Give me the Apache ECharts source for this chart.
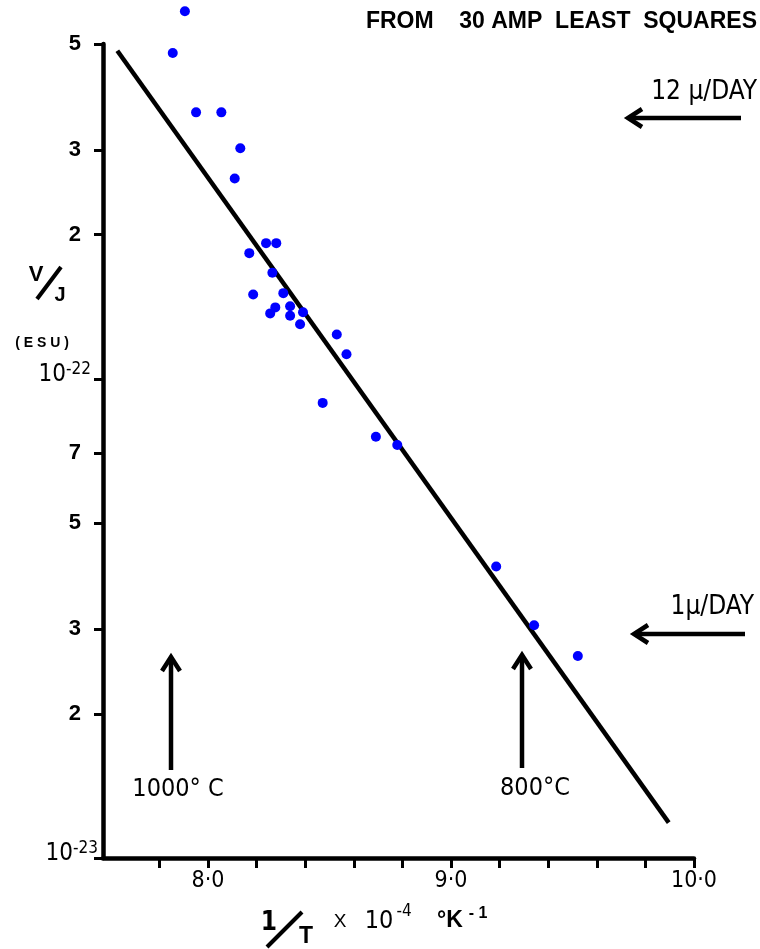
<!DOCTYPE html>
<html>
<head>
<meta charset="utf-8">
<script src="https://cdn.jsdelivr.net/npm/echarts@6/dist/echarts.min.js"></script>
<style>
  html, body { margin: 0; padding: 0; background: #fff; }
  #chart { width: 760px; height: 949px; }
</style>
</head>
<body>
<div id="chart"></div>
<script>
// 1/T in units of 10^-4 per K
const invT = [7.905, 7.855, 7.951, 8.055, 8.133, 8.110, 8.239, 8.281, 8.170, 8.265,
  8.186, 8.310, 8.277, 8.338, 8.256, 8.338, 8.391, 8.379, 8.530, 8.570,
  8.472, 8.691, 8.779, 9.186, 9.342, 9.522];
// V/J in units of 10^-22 esu
const vj = [5.85, 4.79, 3.60, 3.60, 3.03, 2.62, 1.92, 1.92, 1.83, 1.665,
  1.50, 1.51, 1.41, 1.418, 1.37, 1.354, 1.378, 1.30, 1.238, 1.126,
  0.891, 0.757, 0.728, 0.406, 0.306, 0.264];

// least squares line end points
const fitInvT = [7.627, 9.896];
const fitVJ = [4.84, 0.1185];

const yTickVals = [0.1, 0.2, 0.3, 0.5, 0.7, 1, 2, 3, 5];
const yTickLabels = ['10^-23', '2', '3', '5', '7', '10^-22', '2', '3', '5'];
const xTickVals = [7.8, 8.0, 8.2, 8.4, 8.6, 8.8, 9.0, 9.2, 9.4, 9.6, 9.8, 10.0];
const xLabelVals = [8, 9, 10];

const NARROW = "'Liberation Sans Narrow', 'DejaVu Sans Condensed', 'Liberation Sans', sans-serif";
const SANS = "'Liberation Sans', Arial, sans-serif";

const chart = echarts.init(document.getElementById('chart'));

function yLabel(value) {
  let i = yTickVals.findIndex(v => Math.abs(Math.log10(v) - value) < 1e-6);
  if (i < 0) return '';
  let t = yTickLabels[i];
  if (t === '10^-23') return '{p|10}{e23|-23}';
  if (t === '10^-22') return '{p|10}{e22|-22}';
  return '{d|' + t + '}';
}

function txt(x, y, text, font, align) {
  return {
    type: 'text', x: x, y: y,
    style: { text: text, font: font, fill: '#000', align: align || 'center', verticalAlign: 'middle' }
  };
}

function seg(x1, y1, x2, y2, w) {
  return { type: 'line', shape: { x1: x1, y1: y1, x2: x2, y2: y2 }, style: { stroke: '#000', lineWidth: w || 4 } };
}

function head(points) {
  return { type: 'polyline', shape: { points: points }, style: { stroke: '#000', lineWidth: 4.5, fill: null } };
}

const option = {
  animation: false,
  grid: { left: 103, right: 66, top: 44, bottom: 91 },
  xAxis: {
    type: 'value',
    min: 7.568,
    max: 10.0,
    splitLine: { show: false },
    axisLine: { onZero: false, lineStyle: { color: '#000', width: 4.5 } },
    axisTick: {
      customValues: xTickVals,
      length: 10,
      lineStyle: { color: '#000', width: 3 }
    },
    axisLabel: {
      customValues: xLabelVals,
      margin: 12,
      color: '#000',
      fontFamily: NARROW,
      fontSize: 23,
      formatter: v => v.toFixed(1).replace('.', '·')
    }
  },
  yAxis: {
    type: 'value',
    min: -1,
    max: Math.log10(5),
    splitLine: { show: false },
    axisLine: { onZero: false, lineStyle: { color: '#000', width: 4.5 } },
    axisTick: {
      customValues: yTickVals.map(v => Math.log10(v)),
      length: 9,
      lineStyle: { color: '#000', width: 3 }
    },
    axisLabel: {
      customValues: yTickVals.map(v => Math.log10(v)),
      margin: 4,
      color: '#000',
      formatter: yLabel,
      rich: {
        d: { fontFamily: SANS, fontWeight: 'bold', fontSize: 22, padding: [0, 18, 0, 0] },
        p: { fontFamily: NARROW, fontSize: 24, padding: [0, 0, 8, 0] },
        e22: { fontFamily: NARROW, fontSize: 17, padding: [0, 8, 18, 0] },
        e23: { fontFamily: NARROW, fontSize: 17, padding: [0, 1, 18, 0] }
      }
    }
  },
  series: [
    {
      type: 'line',
      data: fitInvT.map((x, i) => [x, Math.log10(fitVJ[i])]),
      symbol: 'none',
      lineStyle: { color: '#000', width: 4.5 },
      z: 2
    },
    {
      type: 'scatter',
      data: invT.map((x, i) => [x, Math.log10(vj[i])]),
      symbolSize: 10,
      itemStyle: { color: '#0000ff', opacity: 1 },
      clip: false,
      z: 3
    }
  ],
  graphic: [
    txt(757, 22, 'FROM    30 AMP  LEAST  SQUARES', 'bold 23px ' + SANS, 'right'),

    txt(757, 92, '12 μ/DAY', '26px ' + NARROW, 'right'),
    seg(741, 118, 628, 118, 4.5),
    head([[642, 109], [628, 118], [642, 127]]),

    txt(754, 607, '1μ/DAY', '26px ' + NARROW, 'right'),
    seg(745, 634, 634, 634, 4.5),
    head([[648, 625], [634, 634], [648, 643]]),

    seg(171, 770, 171, 658, 4.5),
    head([[162, 671], [171, 657], [180, 671]]),
    txt(178, 789, '1000° C', '25px ' + NARROW),

    seg(522, 768, 522, 656, 4.5),
    head([[513, 669], [522, 655], [531, 669]]),
    txt(535, 788, '800°C', '25px ' + NARROW),

    txt(36, 275, 'V', 'bold 22px ' + SANS),
    seg(37, 299, 61, 267, 4),
    txt(60, 295, 'J', 'bold 20px ' + SANS),
    txt(42, 343, '( E S U )', 'bold 14px ' + SANS),

    txt(269, 923, '1', 'bold 26px ' + NARROW),
    seg(267, 947, 302, 912, 4),
    txt(306, 937, 'T', 'bold 23px ' + SANS),
    txt(340, 922, 'X', '19px ' + SANS),
    txt(379, 921, '10', '25px ' + NARROW),
    txt(404, 912, '-4', '17px ' + NARROW),
    txt(450, 921, '°K', 'bold 23px ' + SANS),
    txt(478, 914, '- 1', 'bold 16px ' + SANS)
  ]
};

chart.setOption(option);
</script>
</body>
</html>
